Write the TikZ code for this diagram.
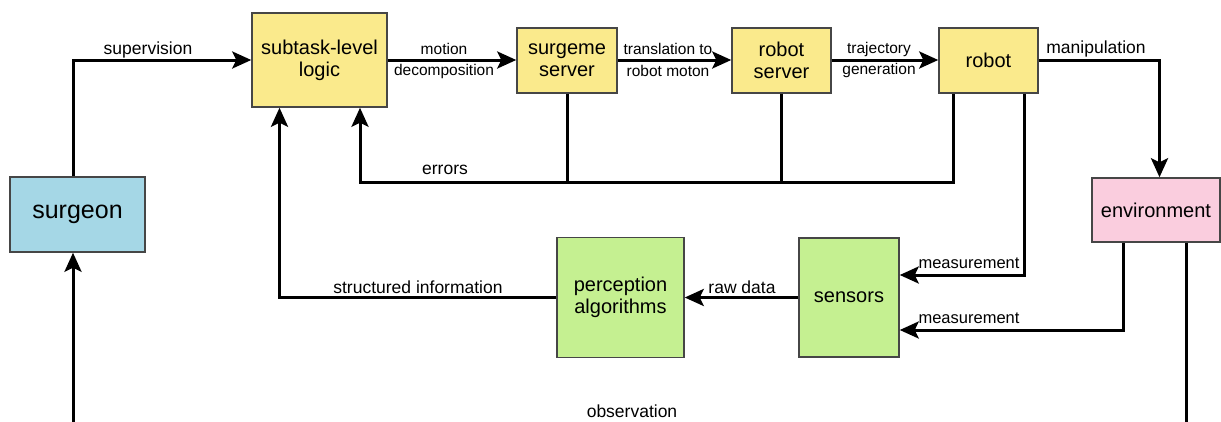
\documentclass[tikz,border=0pt]{standalone}
\usepackage{fontspec}
\setmainfont{Liberation Sans}
\usetikzlibrary{arrows.meta}
\definecolor{cyel}{RGB}{250,234,140}
\definecolor{cblue}{RGB}{165,215,230}
\definecolor{cpink}{RGB}{250,205,222}
\definecolor{cgreen}{RGB}{197,240,145}
\definecolor{cedge}{RGB}{70,70,70}
\tikzset{
  box/.style={draw=cedge, line width=1.5pt, inner sep=0pt, align=center, font=\fontsize{20}{22}\selectfont},
  wire/.style={line width=3pt, line join=miter},
  arr/.style={wire, -{Stealth[length=19pt,width=17pt,inset=4pt]}},
  lab/.style={font=\fontsize{17.5}{19}\selectfont, inner sep=0pt},
  slab/.style={font=\fontsize{15.5}{17}\selectfont, inner sep=0pt},
}
\begin{document}
\begin{tikzpicture}[x=1pt,y=-1pt]
\useasboundingbox (0,0) rectangle (1221,421);
% nodes
\node[box, fill=cyel, minimum width=135pt, minimum height=94pt] (subtask) at (319.5,60) {subtask-level\\logic};
\node[box, fill=cblue, minimum width=135pt, minimum height=75pt, font=\fontsize{25}{27}\selectfont] (surgeon) at (77.5,214.5) {surgeon};
\node[box, fill=cyel, minimum width=100pt, minimum height=65pt] (surgeme) at (567,60.5) {surgeme\\server};
\node[box, fill=cyel, minimum width=99pt, minimum height=65pt] (rserver) at (781.5,60.5) {robot\\server};
\node[box, fill=cyel, minimum width=99pt, minimum height=65pt] (robot) at (988.5,60.5) {robot};
\node[box, fill=cpink, minimum width=128pt, minimum height=64pt] (env) at (1156,210) {environment};
\node[box, fill=cgreen, minimum width=100pt, minimum height=119pt] (sensors) at (849,297.5) {sensors};
\node[box, fill=cgreen, minimum width=127pt, minimum height=120pt] (percep) at (620.5,297.5) {perception\\algorithms};
% helper coordinates
\coordinate (errL) at (360,182);
\coordinate (errR) at (953,182);
\coordinate (m1) at (1024,275);
\coordinate (m2) at (1123,330);
\coordinate (mp) at (1159.5,60);
\coordinate (si) at (279.5,297.5);
\coordinate (obsL) at (73,424);
\coordinate (obsR) at (1186.5,424);
\coordinate (sup) at (73,60);
% connectors
\draw[arr] (surgeon.north -| sup) -- (sup) -- (subtask.west);
\draw[arr] (subtask.east) -- (surgeme.west |- subtask.east);
\draw[arr] (surgeme.east |- subtask.east) -- (rserver.west |- subtask.east);
\draw[arr] (rserver.east |- subtask.east) -- (robot.west |- subtask.east);
\draw[arr] (robot.east |- subtask.east) -- (mp) -- (mp |- env.north);
\draw[arr] (robot.south -| errR) -- (errR) -- (errL) -- (errL |- subtask.south);
\draw[wire] (surgeme.south) -- (surgeme.south |- errL);
\draw[wire] (rserver.south) -- (rserver.south |- errL);
\draw[arr] (robot.south -| m1) -- (m1) -- (m1 -| sensors.east);
\draw[arr] (env.south -| m2) -- (m2) -- (m2 -| sensors.east);
\draw[arr] (sensors.west) -- (percep.east);
\draw[arr] (percep.west) -- (si) -- (si |- subtask.south);
\draw[wire] (env.south -| obsR) -- (obsR);
\draw[arr] (obsL) -- (obsL |- surgeon.south);
% labels
\node[lab] (lsup) at (148,50) {supervision};
\node[slab] (lmo1) at (444,49) {motion};
\node[slab] (lmo2) at (444,71) {decomposition};
\node[slab] (ltr1) at (668,49) {translation to};
\node[slab] (ltr2) at (668,71) {robot moton};
\node[slab] (ltj1) at (879,49) {trajectory};
\node[slab] (ltj2) at (879,70) {generation};
\node[lab] (lman) at (1096,49) {manipulation};
\node[lab] (lerr) at (445,170) {errors};
\node[lab] (lstr) at (418,287) {structured information};
\node[lab] (lraw) at (742,287) {raw data};
\node[slab,font=\fontsize{16.5}{18}\selectfont] (lme1) at (969,263) {measurement};
\node[slab,font=\fontsize{16.5}{18}\selectfont] (lme2) at (969,318) {measurement};
\node[lab] (lobs) at (632,411) {observation};
\end{tikzpicture}
\end{document}
